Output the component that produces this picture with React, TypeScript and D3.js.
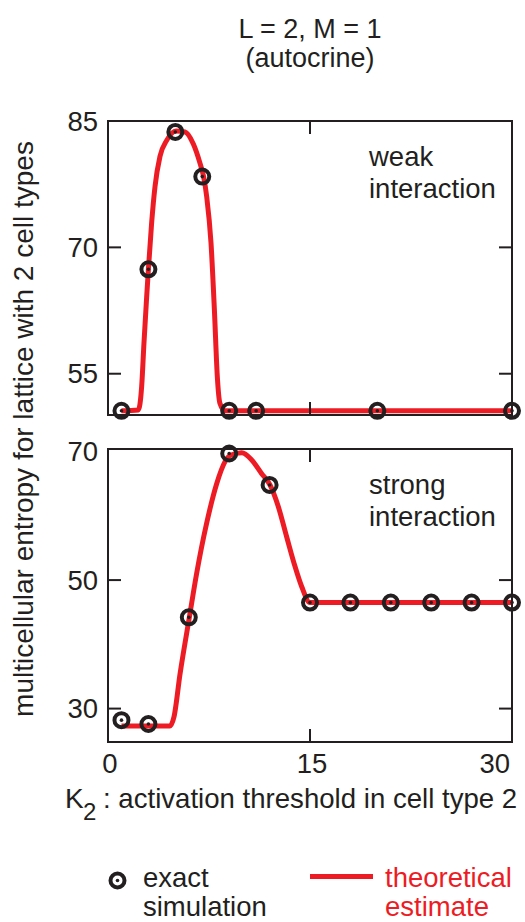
import React from 'react'
import * as d3 from 'd3'

// exact simulation points (K2, entropy)
const weakSimK = [1, 3, 5, 7, 9, 11, 20, 30]
const weakSimV = [50.6, 67.4, 83.7, 78.4, 50.6, 50.6, 50.6, 50.6]
const strongSimK = [1, 3, 6, 9, 12, 15, 18, 21, 24, 27, 30]
const strongSimV = [28.2, 27.6, 44.2, 69.7, 64.8, 46.5, 46.5, 46.5, 46.5, 46.5, 46.5]

// theoretical estimate curves
const weakCurveK = [1, 2.25, 2.5, 2.67, 2.87, 3, 3.24, 3.49, 3.86, 4.36, 5.05, 5.72, 6.33, 6.83, 7.1, 7.33, 7.65, 7.9, 8.12, 8.31, 8.68, 9, 30]
const weakCurveV = [50.6, 50.7, 53.5, 58.6, 64.1, 67.4, 72.9, 77.2, 80.8, 82.7, 83.8, 83.7, 82.3, 80, 78.4, 76, 70.5, 62.6, 54.6, 51.5, 50.6, 50.6, 50.6]
const strongCurveK = [1, 4.6, 4.9, 5.35, 6.04, 6.58, 7.32, 8.07, 8.68, 9.06, 9.93, 10.67, 11.4, 12.03, 12.65, 13.27, 13.89, 14.38, 15, 30]
const strongCurveV = [27.3, 27.3, 28.7, 35.4, 44.2, 51.0, 58.8, 65.0, 68.4, 69.4, 69.8, 68.7, 66.6, 64.8, 61.4, 56.7, 52.1, 49.0, 46.5, 46.5]

const xTicks = [0, 15, 30]
const weakTicks = [85, 70, 55]
const strongTicks = [70, 50, 30]

const INK = '#231f20'
const RED = '#ed1c24'
const FONT = '"Liberation Sans", Arial, Helvetica, sans-serif'

const x = d3.scaleLinear().domain([0, 30]).range([108, 512])

interface PanelProps {
    simK: number[]
    simV: number[]
    curveK: number[]
    curveV: number[]
    domain: [number, number]
    top: number
    bottom: number
    ticks: number[]
    label: string[]
}

const Panel: React.FC<PanelProps> = ({ simK, simV, curveK, curveV, domain, top, bottom, ticks, label }) => {
    const y = d3.scaleLinear().domain(domain).range([bottom, top])
    const line = d3
        .line<number>()
        .curve(d3.curveMonotoneX)
        .x((d) => x(d))
        .y((_, i) => y(curveV[i]))
    const [x0, x1] = x.range()
    const tl = 13
    const inner = ticks.filter((t) => Math.abs(y(t) - top) > 3)
    return (
        <g>
            <path d={line(curveK) ?? ''} fill='none' stroke={RED} strokeWidth={5} strokeLinejoin='round' />
            {simK.map((k, i) => (
                <g key={i} transform={`translate(${x(k)},${y(simV[i])})`}>
                    <circle r={7} fill='none' stroke={INK} strokeWidth={4} />
                    <circle r={1.8} fill={INK} />
                </g>
            ))}
            <rect x={x0} y={top} width={x1 - x0} height={bottom - top} fill='none' stroke={INK} strokeWidth={2} />
            {inner.map((t) => (
                <g key={t}>
                    <line x1={x0} x2={x0 + tl} y1={y(t)} y2={y(t)} stroke={INK} strokeWidth={2} />
                    <line x1={x1} x2={x1 - tl} y1={y(t)} y2={y(t)} stroke={INK} strokeWidth={2} />
                </g>
            ))}
            <line x1={x(15)} x2={x(15)} y1={top} y2={top + tl} stroke={INK} strokeWidth={2} />
            <line x1={x(15)} x2={x(15)} y1={bottom} y2={bottom - tl} stroke={INK} strokeWidth={2} />
            {ticks.map((t) => (
                <text key={t} x={98} y={y(t)} dy='0.35em' textAnchor='end' fontSize={27.5} fill={INK}>
                    {t}
                </text>
            ))}
            {label.map((s, i) => (
                <text key={s} x={369} y={top + 45 + i * 32} fontSize={27.5} fill={INK}>
                    {s}
                </text>
            ))}
        </g>
    )
}

const App: React.FC = () => {
    return (
        <div style={{ position: 'absolute', left: 0, top: 0 }}>
            <svg width={525} height={922} viewBox='0 0 525 922' style={{ display: 'block', fontFamily: FONT }}>
                <rect width={525} height={922} fill='#fff' />
                <text x={310} y={38} textAnchor='middle' fontSize={27} fill={INK}>
                    L = 2, M = 1
                </text>
                <text x={310} y={67} textAnchor='middle' fontSize={27} fill={INK}>
                    (autocrine)
                </text>
                <Panel
                    simK={weakSimK}
                    simV={weakSimV}
                    curveK={weakCurveK}
                    curveV={weakCurveV}
                    domain={[50.1, 85]}
                    top={121}
                    bottom={415}
                    ticks={weakTicks}
                    label={['weak', 'interaction']}
                />
                <Panel
                    simK={strongSimK}
                    simV={strongSimV}
                    curveK={strongCurveK}
                    curveV={strongCurveV}
                    domain={[24.8, 70.4]}
                    top={449}
                    bottom={742}
                    ticks={strongTicks}
                    label={['strong', 'interaction']}
                />
                {xTicks.map((t) => (
                    <text
                        key={t}
                        x={t === 30 ? x(t) - 2 : x(t) + 2}
                        y={773}
                        textAnchor={t === 30 ? 'end' : 'middle'}
                        fontSize={27.5}
                        fill={INK}
                    >
                        {t}
                    </text>
                ))}
                <text x={65} y={808} fontSize={28} fill={INK}>
                    K
                </text>
                <text x={83} y={820} fontSize={24} fill={INK}>
                    2
                </text>
                <text x={103} y={808} fontSize={27.6} fill={INK}>
                    : activation threshold in cell type 2
                </text>
                <text
                    transform='translate(33,429) rotate(-90)'
                    textAnchor='middle'
                    fontSize={28}
                    fill={INK}
                >
                    multicellular entropy for lattice with 2 cell types
                </text>
                {/* legend */}
                <circle cx={117.5} cy={880.5} r={7} fill='#fff' stroke={INK} strokeWidth={4} />
                <circle cx={117.5} cy={880.5} r={1.8} fill={INK} />
                <text x={143} y={887} fontSize={27.5} fill={INK}>
                    exact
                </text>
                <text x={143} y={916} fontSize={27.5} fill={INK}>
                    simulation
                </text>
                <line x1={310} x2={373} y1={876.5} y2={876.5} stroke={RED} strokeWidth={5} />
                <text x={385} y={887} fontSize={27.5} fill={RED}>
                    theoretical
                </text>
                <text x={385} y={916} fontSize={27.5} fill={RED}>
                    estimate
                </text>
            </svg>
        </div>
    )
}

export default App
